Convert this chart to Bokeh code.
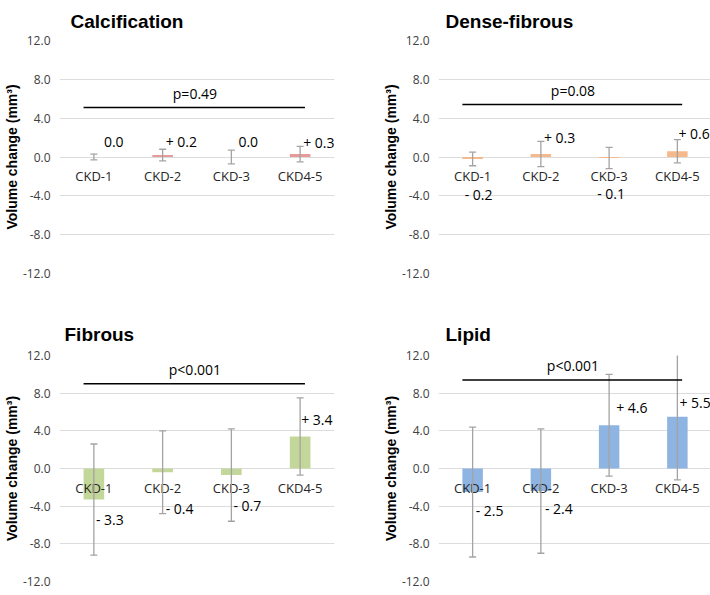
from bokeh.plotting import figure
from bokeh.layouts import column, row
from bokeh.models import (ColumnDataSource, FactorRange, FixedTicker, NumeralTickFormatter,
                          Range1d, LabelSet)
from bokeh.core.properties import value
from bokeh.embed import file_html
from bokeh.resources import INLINE

# ---------------- data ----------------
categories = ["CKD-1", "CKD-2", "CKD-3", "CKD4-5"]
y_ticks = [-12, -8, -4, 0, 4, 8, 12]

titles = ["Calcification", "Dense-fibrous", "Fibrous", "Lipid"]

calc_mean = [0.0, 0.2, 0.0, 0.3]
calc_sd = [0.3, 0.6, 0.7, 0.8]

dense_mean = [-0.2, 0.3, -0.1, 0.6]
dense_sd = [0.7, 1.3, 1.1, 1.2]

fibrous_mean = [-3.3, -0.4, -0.7, 3.4]
fibrous_sd = [5.9, 4.4, 4.9, 4.1]

lipid_mean = [-2.5, -2.4, 4.6, 5.5]
lipid_sd = [6.9, 6.6, 5.4, 6.7]

p_values = ["p=0.49", "p=0.08", "p<0.001", "p<0.001"]

# ---------------- layout / style ----------------
bar_colors = ["#E59B98", "#F6B98B", "#C4D79B", "#8EB4E2"]
pline_y = [5.1, 5.4, 9.0, 9.4]
label_y = [[1.55, 1.55, 1.55, 1.5],
           [-3.9, 2.0, -3.8, 2.4],
           [-5.45, -4.3, -3.9, 5.2],
           [-4.5, -4.3, 6.5, 7.0]]
label_dx = [[10, 3, 7, 3],
            [-8, 3, -12, 1],
            [2, 3, 2, 1],
            [3, 4, 7, 2]]
title_offset = [11, 7, 5, 7]

FONT = "Open Sans"
BOLD_FONT = "Liberation Sans"


def fmt(v):
    if v > 0:
        return "+ %.1f" % v
    if v < 0:
        return "- %.1f" % abs(v)
    return "0.0"


def make_panel(k, mean, sd, frame_w, frame_h, b_left, b_right, b_top, b_bottom, t_standoff):
    p = figure(x_range=FactorRange(factors=categories), y_range=Range1d(-12, 12),
               frame_width=frame_w, frame_height=frame_h,
               min_border_left=b_left, min_border_right=b_right,
               min_border_top=b_top, min_border_bottom=b_bottom,
               output_backend="svg", toolbar_location=None,
               x_axis_location=None, title=titles[k])
    p.outline_line_color = None
    p.background_fill_color = "white"
    p.border_fill_color = "white"

    p.title.text_font = BOLD_FONT
    p.title.text_font_size = "19px"
    p.title.text_font_style = "bold"
    p.title.text_color = "#000000"
    p.title.align = "left"
    p.title.offset = title_offset[k]
    p.title.standoff = t_standoff

    ax = p.yaxis[0]
    ax.ticker = FixedTicker(ticks=y_ticks)
    ax.formatter = NumeralTickFormatter(format="0.0")
    ax.axis_line_color = None
    ax.major_tick_line_color = None
    ax.minor_tick_line_color = None
    ax.major_tick_out = 0
    ax.major_tick_in = 0
    ax.major_label_standoff = 9
    ax.major_label_text_font = FONT
    ax.major_label_text_font_size = "12px"
    ax.major_label_text_color = "#404040"
    ax.axis_label = "Volume change (mm³)"
    ax.axis_label_text_font = BOLD_FONT
    ax.axis_label_text_font_size = "14px"
    ax.axis_label_text_font_style = "bold"
    ax.axis_label_text_color = "#000000"
    ax.axis_label_standoff = 0

    for g in p.xgrid:
        g.visible = False
    p.ygrid.grid_line_color = "#DCDCDC"
    p.ygrid.grid_line_width = 1

    src = ColumnDataSource(dict(
        cat=categories,
        mean=mean,
        upper=[m + s for m, s in zip(mean, sd)],
        lower=[m - s for m, s in zip(mean, sd)],
        base=[0.0] * len(categories),
        lab=[fmt(m) for m in mean],
        lab_y=label_y[k],
        dx=label_dx[k],
    ))

    p.vbar(x="cat", top="mean", bottom="base", width=0.3, source=src,
           fill_color=bar_colors[k], line_color=None)

    # category labels next to the zero line
    p.text(x="cat", y="base", text="cat", source=src, text_align="center",
           text_baseline="middle", y_offset=19, text_font=value(FONT),
           text_font_size="13px", text_color="#262626")

    # error bars
    p.segment(x0="cat", y0="lower", x1="cat", y1="upper", source=src,
              line_color="#A3A3A3", line_width=1.3)
    p.scatter(x="cat", y="upper", source=src, marker="dash", size=7,
              line_color="#A3A3A3", line_width=1.3)
    p.scatter(x="cat", y="lower", source=src, marker="dash", size=7,
              line_color="#A3A3A3", line_width=1.3)

    # value labels
    labels = LabelSet(x="cat", y="lab_y", text="lab", source=src, x_offset="dx",
                      text_align="left", text_baseline="middle", text_font=value(FONT),
                      text_font_size="14px", text_color="#000000")
    p.add_layout(labels)

    # significance bracket
    p.segment(x0=[(categories[0], -0.15)], x1=[(categories[-1], 0.07)],
              y0=[pline_y[k]], y1=[pline_y[k]], line_color="#000000", line_width=1.5)
    p.text(x=[(categories[1], 0.47)], y=[pline_y[k]], text=[p_values[k]],
           text_align="center", text_baseline="middle", y_offset=-14,
           text_font=value(FONT), text_font_size="14px", text_color="#000000")
    return p


# top row: 34 + 233 + 38 ; bottom row: 38 + 226 + 10  (total 579)
p1 = make_panel(0, calc_mean, calc_sd, 275, 233, 53, 45, 34, 38, 17)
p2 = make_panel(1, dense_mean, dense_sd, 273, 233, 54, 0, 34, 38, 17)
p3 = make_panel(2, fibrous_mean, fibrous_sd, 275, 226, 53, 45, 38, 10, 21)
p4 = make_panel(3, lipid_mean, lipid_sd, 273, 226, 54, 0, 38, 10, 21)

layout = column(row(p1, p2, spacing=0), row(p3, p4, spacing=0), spacing=0)

open("out.html", "w").write(file_html(layout, INLINE))
